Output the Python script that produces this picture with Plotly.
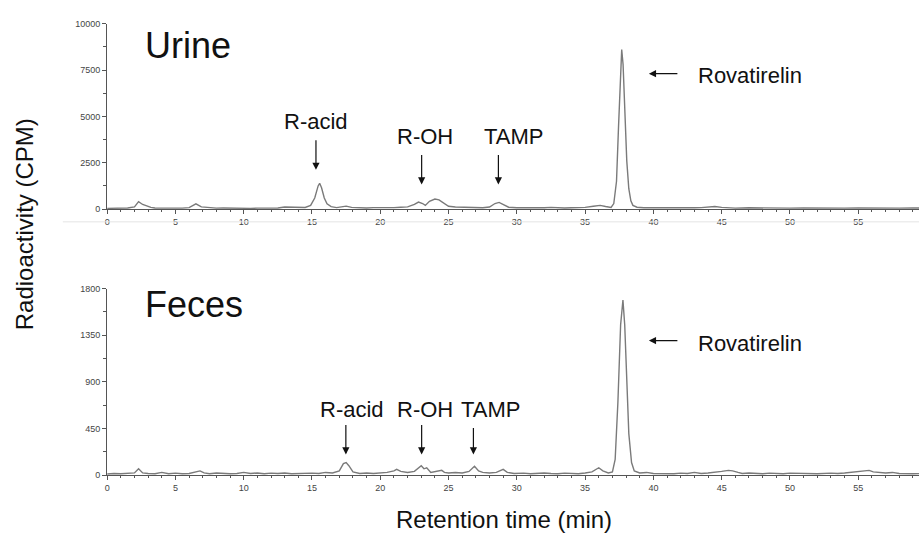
import plotly.graph_objects as go

# ---------------- data ----------------
urine_time = [0.0, 0.5, 1.0, 1.5, 2.0, 2.3, 2.6, 2.9, 3.2, 3.5, 4.0, 4.5, 5.0, 5.5, 6.0, 6.5, 6.9,
              7.5, 8.0, 8.5, 9.0, 9.5, 10.0, 10.5, 11.0, 11.5, 12.0, 12.5, 13.0, 13.5, 14.0, 14.5,
              14.9, 15.2, 15.45, 15.56, 15.7, 15.9, 16.1, 16.4, 16.8, 17.2, 17.5, 17.9, 18.5, 19.0,
              19.5, 20.0, 20.5, 21.0, 21.5, 22.0, 22.5, 22.8, 23.1, 23.3, 23.6, 24.0, 24.3, 24.7,
              25.0, 25.5, 26.0, 26.5, 27.0, 27.5, 28.0, 28.4, 28.7, 29.0, 29.4, 30.0, 30.5, 31.0,
              31.5, 32.0, 32.5, 33.0, 33.5, 34.0, 34.5, 35.0, 35.6, 36.1, 36.5, 36.9, 37.1, 37.3,
              37.45, 37.6, 37.68, 37.78, 37.9, 38.05, 38.2, 38.35, 38.5, 38.8, 39.3, 40.0, 40.5,
              41.0, 41.5, 42.0, 42.5, 43.0, 43.5, 44.0, 44.5, 45.0, 45.5, 46.0, 47.0, 48.0, 49.0,
              50.0, 51.0, 52.0, 53.0, 54.0, 55.0, 56.0, 57.0, 58.0, 59.0, 60.0]
urine_cpm = [40, 50, 40, 60, 120, 400, 250, 150, 90, 60, 50, 70, 60, 50, 80, 280, 120,
             60, 50, 60, 50, 60, 50, 40, 50, 40, 50, 60, 110, 90, 70, 90,
             200, 600, 1250, 1390, 1150, 600, 280, 130, 80, 120, 160, 90, 70, 60,
             80, 70, 90, 80, 100, 120, 250, 380, 300, 200, 420, 540, 500, 300,
             150, 110, 90, 100, 80, 70, 110, 300, 360, 250, 100, 70, 60, 80,
             60, 70, 90, 70, 60, 70, 80, 90, 150, 200, 140, 90, 300, 1500,
             4500, 8000, 8600, 7800, 5200, 2600, 1100, 450, 200, 100, 70, 60, 50,
             60, 70, 80, 60, 70, 80, 100, 140, 90, 60, 50, 70, 50, 60,
             50, 60, 50, 60, 50, 60, 50, 60, 50, 60, 50]

feces_time = [0.0, 0.5, 1.0, 1.5, 2.0, 2.3, 2.6, 3.0, 3.5, 4.0, 4.5, 5.0, 5.5, 6.0, 6.5, 6.8, 7.1,
              7.5, 8.0, 8.5, 9.0, 9.5, 10.0, 10.5, 11.0, 11.5, 12.0, 12.5, 13.0, 13.5, 14.0, 14.5,
              15.0, 15.5, 16.0, 16.5, 17.0, 17.3, 17.5, 17.7, 18.0, 18.5, 19.0, 19.5, 20.0, 20.5,
              21.0, 21.2, 21.5, 22.0, 22.5, 23.0, 23.2, 23.4, 23.7, 24.0, 24.5, 24.7, 25.0, 25.5,
              26.0, 26.5, 26.9, 27.2, 27.5, 28.0, 28.5, 29.0, 29.3, 29.8, 30.5, 31.0, 31.5, 32.0,
              32.5, 33.0, 33.5, 34.0, 34.5, 35.0, 35.5, 36.0, 36.3, 36.7, 37.0, 37.2, 37.4, 37.6,
              37.77, 37.9, 38.05, 38.2, 38.4, 38.6, 39.0, 39.5, 40.0, 40.5, 41.0, 41.5, 42.0, 42.5,
              43.0, 43.5, 44.0, 44.5, 45.0, 45.5, 45.8, 46.2, 46.5, 47.0, 47.5, 48.0, 48.5, 49.0,
              49.5, 50.0, 51.0, 52.0, 53.0, 53.5, 54.0, 54.5, 55.0, 55.5, 55.8, 56.1, 56.5, 57.0,
              57.5, 58.0, 59.0, 60.0]
feces_cpm = [10, 15, 12, 15, 20, 60, 20, 15, 12, 25, 12, 18, 12, 15, 30, 40, 20,
             12, 20, 15, 12, 15, 25, 15, 20, 12, 18, 15, 20, 12, 15, 12,
             18, 15, 25, 20, 40, 110, 120, 90, 30, 15, 20, 15, 18, 25,
             40, 55, 35, 25, 35, 90, 60, 70, 25, 30, 45, 25, 20, 25,
             20, 35, 85, 40, 25, 20, 25, 55, 25, 15, 18, 12, 15, 20,
             15, 12, 18, 15, 12, 20, 30, 70, 40, 20, 30, 150, 700, 1450,
             1690, 1450, 900, 400, 120, 40, 20, 25, 15, 12, 15, 12, 18, 15,
             25, 15, 20, 25, 35, 45, 40, 25, 15, 20, 15, 12, 18, 15,
             12, 18, 15, 12, 18, 15, 20, 25, 30, 40, 45, 30, 25, 20,
             25, 15, 12, 15]

urine_yticks = [0, 2500, 5000, 7500, 10000]
feces_yticks = [0, 450, 900, 1350, 1800]
x_ticks = [0, 5, 10, 15, 20, 25, 30, 35, 40, 45, 50, 55, 60]

# ---------------- figure ----------------
W, H = 919, 533
FONT = "Liberation Sans, Arial, Helvetica, sans-serif"
LINE = "#7a7a7a"
AX = "#555555"


def py(p):  # pixel row -> paper fraction
    return 1 - p / H


def px(p):
    return p / W


fig = go.Figure()
fig.add_trace(go.Scatter(x=urine_time, y=urine_cpm, mode="lines",
                         line=dict(color=LINE, width=1.4), xaxis="x", yaxis="y",
                         showlegend=False, hoverinfo="skip"))
fig.add_trace(go.Scatter(x=feces_time, y=feces_cpm, mode="lines",
                         line=dict(color=LINE, width=1.4), xaxis="x2", yaxis="y2",
                         showlegend=False, hoverinfo="skip"))

xdom = [px(104.5), 1.0]
xcommon = dict(range=[0, 59.45], domain=xdom, showline=True, linecolor=AX, linewidth=1.2,
               ticks="outside", ticklen=4, tickcolor=AX, tickwidth=1,
               tickvals=x_ticks, ticktext=[str(v) for v in x_ticks],
               tickfont=dict(family=FONT, size=9, color="#444"),
               minor=dict(dtick=1, ticks="outside", ticklen=2, tickcolor=AX),
               showgrid=False, zeroline=False, fixedrange=True)
ycommon = dict(showline=True, linecolor=AX, linewidth=1.2, ticks="outside", ticklen=4,
               tickcolor=AX, tickfont=dict(family=FONT, size=9, color="#444"),
               showgrid=False, zeroline=False, fixedrange=True)

fig.update_layout(
    width=W, height=H, margin=dict(l=0, r=0, t=0, b=0),
    paper_bgcolor="white", plot_bgcolor="white",
    font=dict(family=FONT, color="#111"),
    xaxis=dict(anchor="y", **xcommon),
    xaxis2=dict(anchor="y2", **xcommon),
    yaxis=dict(anchor="x", domain=[py(208), py(19)], range=[0, 10000],
               tickvals=urine_yticks, ticktext=[str(v) for v in urine_yticks],
               minor=dict(dtick=1250, ticks="outside", ticklen=3, tickcolor=AX), **ycommon),
    yaxis2=dict(anchor="x2", domain=[py(479), py(289)], range=[0, 1800],
                tickvals=feces_yticks, ticktext=[str(v) for v in feces_yticks],
                minor=dict(dtick=225, ticks="outside", ticklen=3, tickcolor=AX), **ycommon),
)

ann = []
# axis titles and panel titles
ann.append(dict(text="Radioactivity (CPM)", xref="paper", yref="paper", x=px(21), y=py(223.5),
                textangle=-90, showarrow=False, font=dict(size=24, family=FONT, color="#111"),
                xanchor="center", yanchor="middle"))
ann.append(dict(text="Retention time (min)", xref="paper", yref="paper", x=px(503), y=py(524),
                showarrow=False, font=dict(size=24, family=FONT, color="#111"),
                xanchor="center", yanchor="middle"))
ann.append(dict(text="Urine", xref="paper", yref="paper", x=px(140), y=py(41),
                showarrow=False, font=dict(size=36, family=FONT, color="#111"),
                xanchor="left", yanchor="middle"))
ann.append(dict(text="Feces", xref="paper", yref="paper", x=px(140), y=py(305),
                showarrow=False, font=dict(size=36, family=FONT, color="#111"),
                xanchor="left", yanchor="middle"))

LBL = dict(size=22, family=FONT, color="#111")


def label(text, x, y, xr, yr):
    ann.append(dict(text=text, x=x, y=y, xref=xr, yref=yr, showarrow=False, font=LBL,
                    xanchor="center", yanchor="middle"))


def arrow(x, y, xr, yr, ax, ay):
    ann.append(dict(text="", x=x, y=y, xref=xr, yref=yr, showarrow=True, ax=ax, ay=ay,
                    arrowhead=2, arrowsize=1.2, arrowwidth=1.2, arrowcolor="#111", standoff=0))


# Urine panel
label("R-acid", 15.29, 4709, "x", "y")
arrow(15.29, 2116, "x", "y", 0, -31)
label("R-OH", 23.25, 3915, "x", "y")
arrow(23.03, 1323, "x", "y", 0, -31)
label("TAMP", 29.74, 3915, "x", "y")
arrow(28.65, 1323, "x", "y", 0, -31)
arrow(39.67, 7302, "x", "y", 30, 0)
label("Rovatirelin", 47.04, 7196, "x", "y")

# Feces panel
label("R-acid", 17.92, 635, "x2", "y2")
arrow(17.48, 199, "x2", "y2", 0, -31)
label("R-OH", 23.25, 635, "x2", "y2")
arrow(23.03, 199, "x2", "y2", 0, -31)
label("TAMP", 28.07, 635, "x2", "y2")
arrow(26.82, 199, "x2", "y2", 0, -28)
arrow(39.67, 1298, "x2", "y2", 30, 0)
label("Rovatirelin", 47.04, 1269, "x2", "y2")

fig.update_layout(annotations=ann)

# faint separator line under the upper panel
fig.add_shape(type="line", xref="paper", yref="paper", x0=px(60), x1=1, y0=py(221), y1=py(221),
              line=dict(color="#e4e4e4", width=1))

fig.write_html("out.html")
